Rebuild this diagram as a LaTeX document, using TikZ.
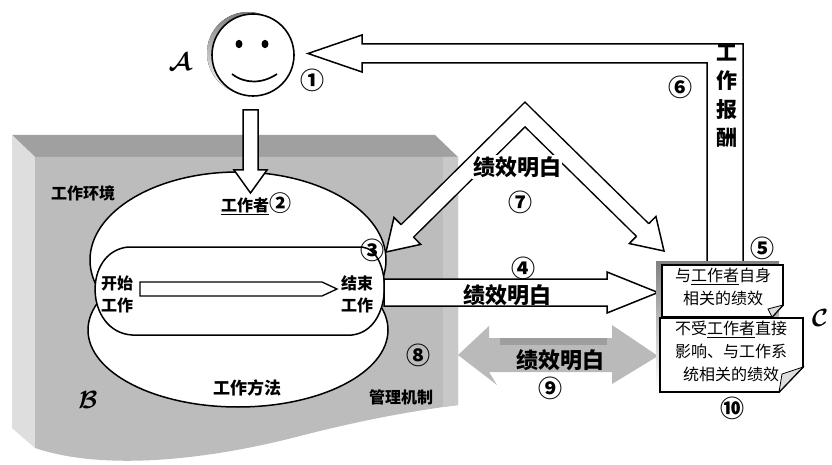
\documentclass[tikz,border=0pt]{standalone}
\usepackage{fontspec}
\usepackage{bm}
\newfontfamily\cjk{Noto Sans CJK SC}
\usetikzlibrary{calc}

\definecolor{bandtop}{RGB}{160,160,160}
\definecolor{bandmain}{RGB}{188,188,188}
\definecolor{bandleft}{RGB}{222,222,222}
\definecolor{bandright}{RGB}{200,200,200}
\definecolor{arrowgrey}{RGB}{186,186,186}
\definecolor{arrowdark}{RGB}{158,158,158}
\definecolor{shade}{RGB}{150,150,150}

% straight hollow block arrow: style, tail, tip, half shaft, half head, head length
\newcommand\blockarrow[6]{%
  \coordinate (ba-h) at ($(#3)!#6!(#2)$);
  \draw[#1] ($(#2)!#4!90:(#3)$) -- ($(ba-h)!#4!90:(#3)$) -- ($(ba-h)!#5!90:(#3)$)
    -- (#3) -- ($(ba-h)!#5!-90:(#3)$) -- ($(ba-h)!#4!-90:(#3)$) -- ($(#2)!#4!-90:(#3)$) -- cycle;
}
% open arrow head sitting on the end of a hollow shaft: base, tip, half shaft, half head
\newcommand\openhead[4]{%
  \fill[white] ($(#1)!#4!90:(#2)$) -- (#2) -- ($(#1)!#4!-90:(#2)$) -- cycle;
  \draw[line width=1.5pt, line join=miter] ($(#1)!#3!90:(#2)$) -- ($(#1)!#4!90:(#2)$)
    -- (#2) -- ($(#1)!#4!-90:(#2)$) -- ($(#1)!#3!-90:(#2)$);
}

\begin{document}
\begin{tikzpicture}[x=1pt,y=-1pt,
  outline/.style={draw=black, line width=1.5pt, fill=white, line join=miter},
  lbl/.style={font=\cjk\bfseries\fontsize{16}{22}\selectfont, inner sep=1pt, align=center},
  big/.style={font=\cjk\bfseries\fontsize{22}{28}\selectfont, inner sep=1pt, align=center},
  num/.style={font=\cjk\bfseries\fontsize{24}{24}\selectfont, inner sep=0pt},
  boxtxt/.style={font=\cjk\fontsize{16}{23}\selectfont, align=center, inner sep=0pt},
  script/.style={font=\fontsize{36}{36}\selectfont, inner sep=0pt}
]
\useasboundingbox (0,0) rectangle (832,465);

% ---- grey bevelled panel (work environment) ----
\fill[bandtop] (12,135) -- (435,135) -- (458,157) -- (35,157) -- cycle;
\fill[bandleft] (12,135) -- (35,157) -- (35,448) -- (12,428) -- cycle;
\fill[bandmain] (35,157) -- (458,157) -- (458,405)
  .. controls (420,410) and (370,418) .. (300,436)
  .. controls (200,462) and (100,470) .. (35,448) -- cycle;
\fill[bandright] (443,157) -- (458,157) -- (458,405) -- (443,407) -- cycle;

% ---- burger: buns and patty ----
\draw[outline] (238,260) ellipse [x radius=148pt, y radius=88pt];
\draw[outline] (238,330) ellipse [x radius=150pt, y radius=77pt];
\draw[outline] (128,247) -- (362,247) .. controls (392,250) and (395,330) .. (352,335)
  -- (132,335) .. controls (85,332) and (82,252) .. (128,247) -- cycle;

% ---- face ----
\fill[shade] (248,53) circle (41pt);
\node[circle, draw, line width=1.6pt, fill=white, minimum size=82pt, inner sep=0pt] (face) at (253,55) {};
\fill (239,44) ellipse [x radius=3.5pt, y radius=4.2pt];
\fill (265,44) ellipse [x radius=3.5pt, y radius=4.2pt];
\draw[line width=1.7pt] (232,74) .. controls (245,84) and (262,84) .. (277,74);
\node[script] (la) at (180,62) {$\bm{\mathcal{A}}$};
\node[num] (n1) at (312,80) {①};

% ---- connectors ----
\coordinate (downtail) at (250.5,110);
\coordinate (downtip) at (250.5,193);
\blockarrow{outline}{downtail}{downtip}{7.5pt}{16.5pt}{23pt}

\coordinate (innertail) at (140,289);
\coordinate (innertip) at (337,289);
\draw[outline, line width=1.3pt] (140,282) -- (322,282) -- (innertip) -- (322,296) -- (140,296) -- cycle;

\coordinate (fourtail) at (384,292.5);
\coordinate (fourtip) at (658,292.5);
\blockarrow{outline}{fourtail}{fourtip}{13.5pt}{20.5pt}{51pt}

% double grey arrow
\coordinate (ninel) at (458,355);
\coordinate (niner) at (658,356);
\fill[arrowgrey] (ninel) -- (489,326) -- (489,338) -- (612,338) -- (612,325) -- (niner)
  -- (612,384) -- (612,372) -- (489,372) -- (497,385) -- cycle;
\fill[arrowdark] (500,338) rectangle (607,345);

% reward arrow back to the face
\coordinate (rewtip) at (308,53.5);
\draw[outline] (707,265) -- (707,63) -- (362,63) -- (362,72) -- (rewtip) -- (362,35)
  -- (362,44) -- (743,44) -- (743,265);

% feedback arrow with two heads
\coordinate (apex) at (525,114.5);
\coordinate (tipl) at (386,252);
\coordinate (tipr) at (664,251);
\coordinate (hl) at ($(tipl)!30pt!(apex)$);
\coordinate (hr) at ($(tipr)!30pt!(apex)$);
\draw[line width=19pt, line join=miter] (hl) -- (apex) -- (hr);
\draw[white, line width=16pt, line join=miter] (hl) -- (apex) -- (hr);
\openhead{hl}{tipl}{8.75pt}{19pt}
\openhead{hr}{tipr}{8.75pt}{19pt}

% ---- performance boxes ----
\fill[shade] (656,261) rectangle (779,388);
\draw[outline, line width=1.8pt] (662,265) -- (783,265) -- (783,305) -- (772,317) -- (662,317) -- cycle;
\filldraw[fill=bandleft, line width=0.8pt] (772,317) -- (783,305) -- (768,309) -- cycle;
\draw[outline, line width=1.8pt] (660,318) -- (803,318) -- (803,367) -- (779,392) -- (660,392) -- cycle;
\filldraw[fill=bandleft, line width=0.8pt] (779,392) -- (803,367) -- (782,374) -- cycle;

\node[boxtxt] (own) at (723,287) {与\underline{工作者}自身\\相关的绩效};
\node[boxtxt] (sys) at (731,351) {不受\underline{工作者}直接\\影响、与工作系\\统相关的绩效};
\node[num] (n10) at (732,408) {⑩};
\node[num] (n5) at (762,248) {⑤};
\node[script] (lc) at (820,318) {$\bm{\mathcal{C}}$};

% ---- labels ----
\node[lbl] (env) at (83,193) {工作环境};
\node[lbl] (worker) at (256,204) {\underline{工作者}{\fontsize{22}{22}\selectfont ②}};
\node[num] (n3) at (372,250) {③};
\node[lbl] (start) at (117,294) {开始\\工作};
\node[lbl] (finish) at (357,294) {结束\\工作};
\node[lbl, font=\cjk\bfseries\fontsize{17}{20}\selectfont] (method) at (247,388) {工作方法};
\node[lbl] (mgmt) at (401,397) {管理机制};
\node[num] (n8) at (418,355) {⑧};
\node[script] (lb) at (88,400) {$\bm{\mathcal{B}}$};

\node[big] (t4) at (507,295) {绩效明白};
\node[num] (n4) at (523,268) {④};
\node[big, fill=white] (t7) at (517,167) {绩效明白};
\node[num] (n7) at (520,202) {⑦};
\node[num] (n6) at (680,87) {⑥};
\node[big, font=\cjk\bfseries\fontsize{21}{28.5}\selectfont] (reward) at (727,96) {工\\作\\报\\酬};
\node[big] (t9) at (560,360) {绩效明白};
\node[num] (n9) at (550,388) {⑨};
\end{tikzpicture}
\end{document}
